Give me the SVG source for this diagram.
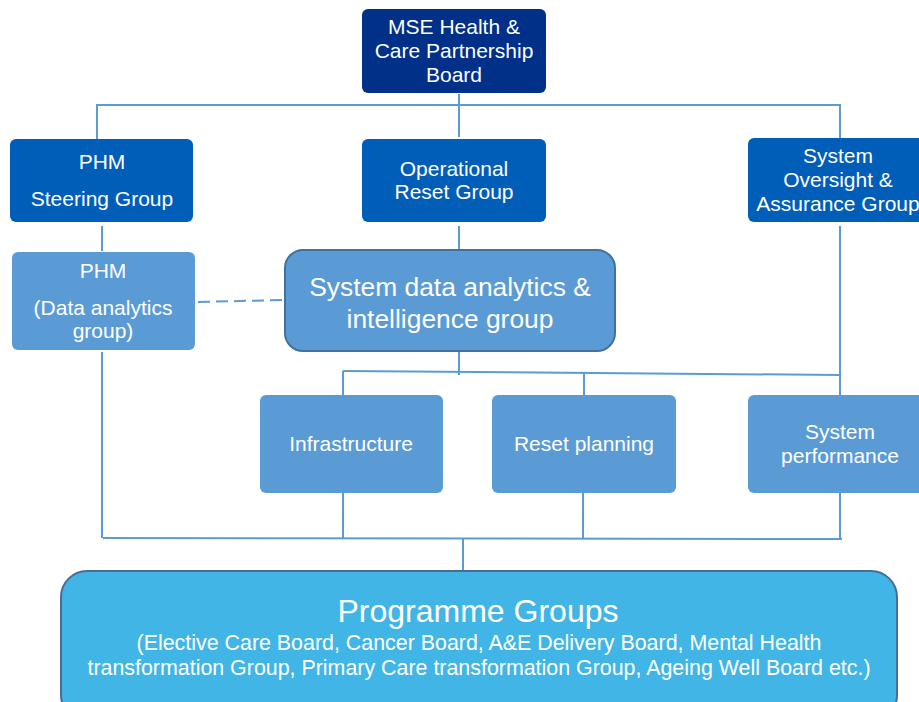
<svg xmlns="http://www.w3.org/2000/svg" width="919" height="702" viewBox="0 0 919 702">
<style>
text{font-family:"Liberation Sans",Arial,sans-serif;fill:#fff;text-anchor:middle;font-size:21px}
.dark{fill:#003087}
.mid{fill:#005EB8}
.light{fill:#5B9BD5}
.con line{stroke:#5B9BD5;stroke-width:2;fill:none}
</style>
<rect width="919" height="702" fill="#fff"/>
<g class="con">
<line x1="459" y1="94" x2="459" y2="137"/>
<line x1="96" y1="105" x2="841" y2="105"/>
<line x1="97" y1="105" x2="97" y2="139"/>
<line x1="840" y1="105" x2="840" y2="138"/>
<line x1="102" y1="226" x2="102" y2="251"/>
<line x1="459" y1="226" x2="459" y2="249"/>
<line x1="840" y1="226" x2="840" y2="395"/>
<line x1="459" y1="352" x2="459" y2="375"/>
<line x1="343" y1="371" x2="840" y2="375"/>
<line x1="343" y1="371" x2="343" y2="395"/>
<line x1="584" y1="374" x2="584" y2="395"/>
<line x1="198" y1="302" x2="283" y2="300" stroke-dasharray="12,6"/>
<line x1="102" y1="352" x2="102" y2="538"/>
<line x1="103" y1="538" x2="842" y2="539"/>
<line x1="343" y1="493" x2="343" y2="538"/>
<line x1="583" y1="493" x2="583" y2="538"/>
<line x1="840" y1="493" x2="840" y2="539"/>
<line x1="463" y1="539" x2="463" y2="570"/>
</g>
<g id="mse">
<rect class="dark" x="362" y="9" width="184" height="84" rx="6"/>
<text x="454" y="34">MSE Health &amp;</text>
<text x="454" y="58">Care Partnership</text>
<text x="454" y="82">Board</text>
</g>
<g id="phm-steering">
<rect class="mid" x="10" y="139" width="183" height="83" rx="6"/>
<text x="102" y="169">PHM</text>
<text x="102" y="206">Steering Group</text>
</g>
<g id="operational-reset">
<rect class="mid" x="362" y="139" width="184" height="83" rx="6"/>
<text x="454" y="176">Operational</text>
<text x="454" y="199">Reset Group</text>
</g>
<g id="system-oversight">
<rect class="mid" x="748" y="138" width="180" height="84" rx="6"/>
<text x="838" y="163">System</text>
<text x="838" y="187">Oversight &amp;</text>
<text x="838" y="211">Assurance Group</text>
</g>
<g id="phm-data">
<rect class="light" x="12" y="252" width="183" height="98" rx="6"/>
<text x="103" y="278">PHM</text>
<text x="103" y="315">(Data analytics</text>
<text x="103" y="338">group)</text>
</g>
<g id="system-data">
<rect class="light" x="285" y="250" width="330" height="101" rx="18" stroke="#41719C" stroke-width="2"/>
<text x="450" y="296" style="font-size:26.4px">System data analytics &amp;</text>
<text x="450" y="328" style="font-size:26.4px">intelligence group</text>
</g>
<g id="infrastructure">
<rect class="light" x="260" y="395" width="183" height="98" rx="6"/>
<text x="351" y="451">Infrastructure</text>
</g>
<g id="reset-planning">
<rect class="light" x="492" y="395" width="184" height="98" rx="6"/>
<text x="584" y="451">Reset planning</text>
</g>
<g id="system-performance">
<rect class="light" x="748" y="395" width="180" height="98" rx="6"/>
<text x="840" y="439">System</text>
<text x="840" y="463">performance</text>
</g>
<g id="programme-groups">
<rect x="61" y="571" width="836" height="150" rx="26" fill="#41B6E6" stroke="#4A6B94" stroke-width="2"/>
<text x="478" y="622" style="font-size:32px">Programme Groups</text>
<text x="479" y="650" style="font-size:21.4px">(Elective Care Board, Cancer Board, A&amp;E Delivery Board, Mental Health</text>
<text x="479" y="675" style="font-size:21.4px">transformation Group, Primary Care transformation Group, Ageing Well Board etc.)</text>
</g>
</svg>
